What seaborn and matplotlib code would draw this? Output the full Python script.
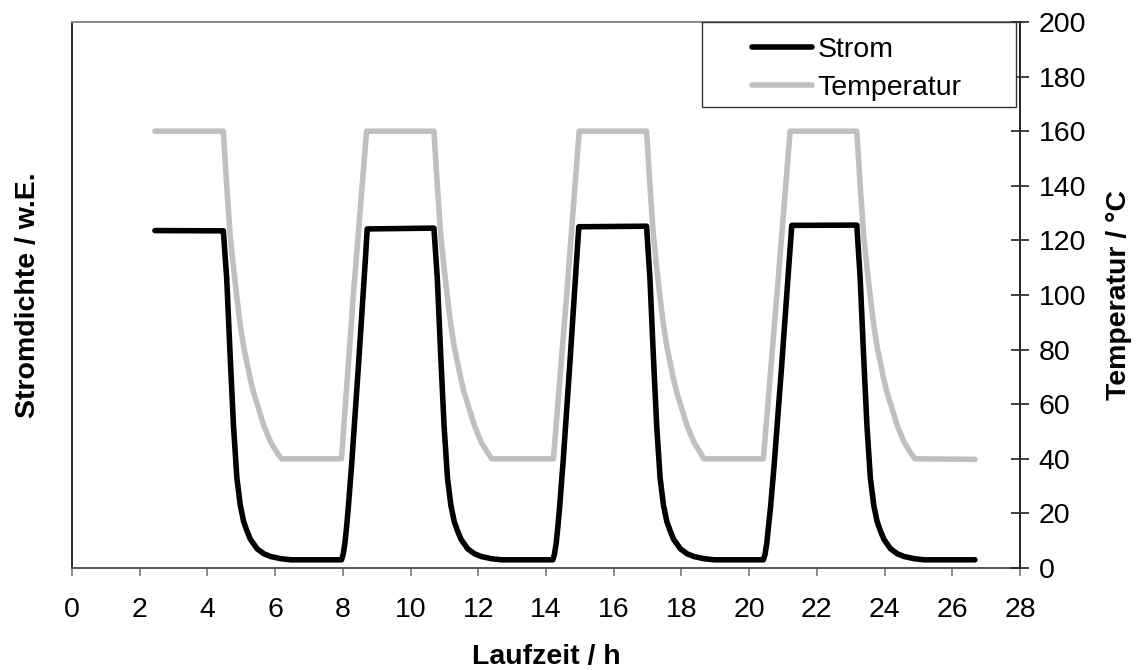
import matplotlib
matplotlib.use("Agg")
import matplotlib.pyplot as plt
import seaborn as sns
import pandas as pd
from matplotlib.patches import Rectangle

# ---- data ----
strom_t = [2.45, 4.47,
           4.57, 4.67, 4.77, 4.87, 4.97, 5.07, 5.17, 5.27, 5.47, 5.67, 5.87, 6.17, 6.47,
           7.96, 8.01, 8.06, 8.11, 8.16, 8.26, 8.36, 8.46, 8.56, 8.66, 8.72,
           10.69,
           10.79, 10.89, 10.99, 11.09, 11.19, 11.29, 11.39, 11.49, 11.69, 11.89, 12.09, 12.39, 12.69,
           14.20, 14.25, 14.30, 14.35, 14.40, 14.50, 14.60, 14.70, 14.80, 14.90, 14.97,
           16.97,
           17.07, 17.17, 17.27, 17.37, 17.47, 17.57, 17.67, 17.77, 17.97, 18.17, 18.37, 18.67, 18.97,
           20.42, 20.47, 20.52, 20.57, 20.63, 20.74, 20.85, 20.96, 21.07, 21.18, 21.26,
           23.18,
           23.28, 23.38, 23.48, 23.58, 23.68, 23.78, 23.88, 23.98, 24.18, 24.38, 24.58, 24.88, 25.18,
           26.67]
strom_v = [123.6, 123.5,
           106, 78, 52, 33, 23, 17, 13.5, 10.5, 7, 5.2, 4.2, 3.4, 3.0,
           3.0, 5, 9, 15, 22, 38, 56, 74, 93, 112, 124.2,
           124.5,
           106, 78, 52, 33, 23, 17, 13.5, 10.5, 7, 5.2, 4.2, 3.4, 3.0,
           3.0, 5, 9, 15, 22, 38, 56, 74, 93, 112, 125.0,
           125.2,
           106, 78, 52, 33, 23, 17, 13.5, 10.5, 7, 5.2, 4.2, 3.4, 3.0,
           3.0, 5, 9, 15, 22, 38, 56, 74, 93, 112, 125.5,
           125.6,
           106, 78, 52, 33, 23, 17, 13.5, 10.5, 7, 5.2, 4.2, 3.4, 3.0,
           3.0]

temp_t = [2.45, 4.47,
          4.52, 4.57, 4.62, 4.67, 4.77, 4.87, 4.97, 5.07, 5.17, 5.27, 5.37, 5.47, 5.57, 5.67, 5.77, 5.87, 5.97, 6.07, 6.19,
          7.96, 8.31, 8.70,
          10.69,
          10.74, 10.79, 10.84, 10.89, 10.99, 11.09, 11.19, 11.29, 11.39, 11.49, 11.59, 11.69, 11.79, 11.89, 11.99, 12.09, 12.19, 12.29, 12.40,
          14.22, 14.61, 14.98,
          16.97,
          17.02, 17.07, 17.12, 17.17, 17.27, 17.37, 17.47, 17.57, 17.67, 17.77, 17.87, 17.97, 18.07, 18.17, 18.27, 18.37, 18.47, 18.57, 18.66,
          20.42, 20.82, 21.21,
          23.18,
          23.23, 23.28, 23.33, 23.38, 23.48, 23.58, 23.68, 23.78, 23.88, 23.98, 24.08, 24.18, 24.28, 24.38, 24.48, 24.58, 24.68, 24.78, 24.90,
          26.67]
temp_v = [160, 160,
          150, 140, 131, 122, 110, 99, 89, 81, 75, 69, 64, 60, 56, 52, 49, 46, 44, 42, 40,
          40, 100, 160,
          160,
          150, 140, 131, 122, 110, 99, 89, 81, 75, 69, 64, 60, 56, 52, 49, 46, 44, 42, 40,
          40, 100, 160,
          160,
          150, 140, 131, 122, 110, 99, 89, 81, 75, 69, 64, 60, 56, 52, 49, 46, 44, 42, 40,
          40, 100, 160,
          160,
          150, 140, 131, 122, 110, 99, 89, 81, 75, 69, 64, 60, 56, 52, 49, 46, 44, 42, 40,
          39.8]

x_ticks = list(range(0, 29, 2))
y_ticks = list(range(0, 201, 20))
series_names = ["Strom", "Temperatur"]
x_label = "Laufzeit / h"
y_label_left = "Stromdichte / w.E."
y_label_right = "Temperatur / °C"

df_strom = pd.DataFrame({"t": strom_t, "v": strom_v})
df_temp = pd.DataFrame({"t": temp_t, "v": temp_v})

# ---- style ----
sns.set_style("white")
plt.rcParams["font.family"] = ["Liberation Sans", "DejaVu Sans"]
plt.rcParams["text.color"] = "black"
plt.rcParams["axes.labelcolor"] = "black"
plt.rcParams["xtick.color"] = "black"
plt.rcParams["ytick.color"] = "black"
FS = 20.5

fig = plt.figure(figsize=(11.36, 6.70), dpi=100)
ax = fig.add_axes([72 / 1136, 1 - 568 / 670, (1020 - 72) / 1136, (568 - 22) / 670])
ax2 = ax.twinx()

sns.lineplot(data=df_strom, x="t", y="v", ax=ax, color="black", linewidth=4.0,
             estimator=None, sort=False, label=series_names[0], legend=False)
sns.lineplot(data=df_temp, x="t", y="v", ax=ax2, color="#c0c0c0", linewidth=4.0,
             estimator=None, sort=False, label=series_names[1], legend=False)
for a in (ax, ax2):
    for ln in a.get_lines():
        ln.set_solid_capstyle("round")
        ln.set_solid_joinstyle("round")

ax.set_xlim(0, 28)
ax.set_ylim(0, 200)
ax2.set_ylim(0, 200)
ax.set_xticks(x_ticks)
ax.set_xticklabels([str(v) for v in x_ticks], fontsize=FS)
ax.set_yticks([])
ax2.set_yticks(y_ticks)
ax2.set_yticklabels([str(v) for v in y_ticks], fontsize=FS)

ax.tick_params(axis="x", direction="out", length=6, width=1.2, color="#777777",
               labelcolor="black", pad=15, bottom=True)
ax2.tick_params(axis="y", direction="inout", length=13, width=1.2, color="#222222",
                labelcolor="black", pad=7, right=True)

ax.set_xlabel(x_label, fontsize=FS, fontweight="bold", labelpad=15)
ax.set_ylabel(y_label_left, fontsize=FS, fontweight="bold", labelpad=22)
ax2.set_ylabel(y_label_right, fontsize=FS, fontweight="bold", labelpad=14)

for name, sp in ax.spines.items():
    sp.set_visible(True)
    sp.set_linewidth(1.4)
ax.spines["left"].set_color("#2a2a2a")
ax.spines["right"].set_color("#2a2a2a")
ax.spines["bottom"].set_color("#555555")
ax.spines["top"].set_color("#8a8a8a")
for name, sp in ax2.spines.items():
    sp.set_visible(name == "right")
ax2.spines["right"].set_color("#2a2a2a")
ax2.spines["right"].set_linewidth(1.4)

# legend box (wide Excel-style frame) and entries
frame = Rectangle((702 / 1136, 1 - 107 / 670), (1016 - 702) / 1136, (107 - 22) / 670,
                  transform=fig.transFigure, facecolor="white", edgecolor="#333333",
                  linewidth=1.0, zorder=8, clip_on=False)
ax2.add_patch(frame)
handles = ax.get_lines()[:1] + ax2.get_lines()[:1]
leg = ax2.legend(handles, series_names, loc="upper left",
                 bbox_to_anchor=(752 / 1136, 1 - 37 / 670), bbox_transform=fig.transFigure,
                 frameon=False, fontsize=FS, borderpad=0, borderaxespad=0,
                 handlelength=2.1, handletextpad=0.2, labelspacing=0.42)
leg.set_zorder(10)
ax2.set_zorder(3)

fig.savefig("out.png", dpi=100)
